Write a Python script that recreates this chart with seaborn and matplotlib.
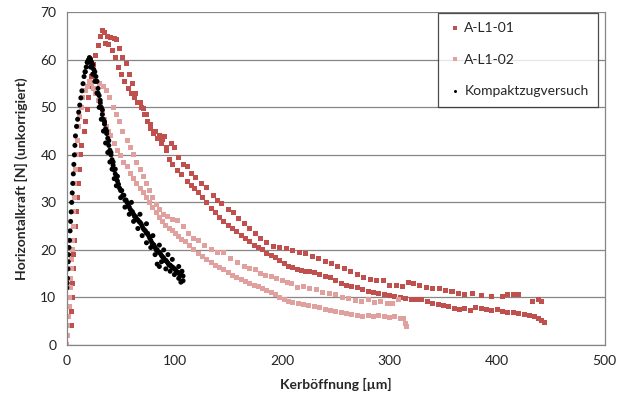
import pandas as pd
import seaborn as sns
import matplotlib.pyplot as plt

# A-L1-01: rise, upper (sparse) branch, lower (dense) branch
a01_x = [4, 4.5, 5, 5.5, 6, 6.5, 7, 8, 9, 10, 11, 12, 13, 14, 16, 17, 19, 20, 22, 23, 25, 27, 29, 31, 33,
         35, 38, 41, 44, 46, 49, 52, 55, 58, 61, 64, 68, 71, 74, 78, 82, 86, 89, 93, 97, 100, 104, 108,
         112, 116, 120, 125, 130, 136, 140, 144, 150, 155, 160, 165, 170, 175, 180, 186, 192, 198, 204,
         210, 216, 222, 228, 234, 240, 246, 252, 258, 264, 270, 276, 282, 288, 294, 300, 306, 312, 318,
         322, 328, 334, 340, 346, 352, 358, 364, 370, 377, 385, 395, 405, 410, 415, 420, 433, 438, 441,
         36, 39, 42, 45, 48, 51, 54, 57, 60, 63, 66, 69, 72, 75, 78, 81, 84, 88, 91, 93, 95, 98, 103,
         107, 112, 116, 119, 122, 126, 130, 134, 138, 142, 146, 150, 154, 158, 162, 166, 170, 174, 178,
         182, 186, 190, 194, 198, 202, 206, 210, 214, 218, 222, 226, 230, 235, 240, 245, 250, 255, 260,
         265, 270, 275, 280, 285, 290, 295, 300, 305, 310, 315, 320, 325, 330, 335, 340, 345, 350, 355,
         360, 365, 370, 375, 380, 385, 390, 395, 400, 405, 410, 415, 420, 425, 430, 435, 438, 441, 444]
a01_y = [4, 7, 10, 13, 16, 19, 22, 25, 28, 31, 34, 37, 40, 42, 45, 47, 49.5, 52, 54.5, 56.5, 59, 61, 63, 65, 66.2,
         65.8, 65, 64.8, 64.5, 64.3, 62.5, 60.5, 59.2, 57, 55, 53, 51, 49.8, 48.5, 46.5, 45, 44, 43.2, 41.5,
         42.5, 41.5, 39.5, 38, 37.5, 36, 35.2, 34, 33.2, 31.5, 30.5, 29.8, 28.5, 27.8, 26.6, 25.5, 24.5,
         23.5, 22.5, 21.5, 20.8, 20.5, 20.2, 19.8, 19.5, 19.2, 18.6, 18.2, 17.5, 17.2, 16.5, 16, 15.5,
         14.8, 14.2, 13.8, 13.5, 13.6, 12.6, 12.4, 12.2, 13.2, 13, 12.6, 12, 11.8, 11.8, 11.5, 11.2, 10.8,
         10.5, 10.9, 10.3, 10.2, 10.1, 10.6, 10.5, 10.7, 9.2, 9.5, 9.2,
         63.5, 63.2, 62, 60.5, 58.5, 57, 55.5, 54, 53, 52, 51, 50, 48.5, 47, 45.5, 44.5, 43.5, 42.5, 43.8,
         41, 39, 38, 36.8, 35.8, 34.5, 33.5, 33, 32, 31, 30, 28.8, 27.8, 26.8, 26, 25.2, 24.5, 23.8, 23,
         22.3, 21.7, 21, 20.5, 20, 19.3, 18.8, 18.3, 17.8, 17.2, 16.5, 16.2, 15.8, 15.6, 15.5, 15.4, 15.2,
         14.8, 14.4, 14.2, 13.5, 13, 12.6, 12.3, 12, 11.6, 11.3, 11, 10.8, 10.5, 10.4, 10.2, 10, 9.8, 9.6,
         9.5, 9.5, 9.2, 8.8, 8.5, 8.2, 8, 7.6, 7.4, 7.6, 7.3, 7.8, 7.6, 7.4, 7.2, 7.4, 7, 6.9, 6.8, 6.6,
         6.4, 6.2, 6, 5.6, 5.2, 4.8]

# A-L1-02: rise, lower branch, upper branch
a02_x = [0, 0.5, 1, 1.5, 2, 2.5, 3, 3.5, 4, 4.5, 5, 5.5, 6, 6.5, 7, 7.5, 8, 9, 10, 11, 12, 14, 15, 17, 19, 21, 23,
         25, 27, 29, 31, 33, 35, 37, 39, 41, 44, 47, 50, 53, 56, 59, 62, 65, 68, 71, 74, 77, 80, 83, 86,
         89, 92, 95, 98, 101, 104, 107, 110, 114, 118, 122, 126, 130, 134, 138, 142, 146, 150, 154, 158,
         162, 166, 170, 174, 178, 182, 186, 190, 194, 198, 202, 206, 210, 215, 220, 225, 230, 235, 240,
         245, 250, 255, 260, 265, 270, 275, 280, 285, 290, 295, 300, 305, 310, 313, 315, 316,
         30, 34, 37, 40, 43, 46, 49, 52, 56, 59, 62, 65, 68, 71, 74, 77, 80, 83, 86, 90, 94, 98, 103, 108,
         113, 118, 122, 128, 134, 140, 146, 152, 159, 165, 170, 175, 180, 185, 190, 195, 200, 205, 209,
         214, 220, 226, 232, 238, 244, 250, 256, 262, 268, 274, 280, 286, 292, 298, 303, 308]
a02_y = [0, 2, 4, 6, 8, 10, 12, 14, 16, 18, 20, 22, 25, 28, 31, 34, 37, 40, 43, 46, 48, 50, 52, 53.5, 54.5, 55.5, 55,
         54, 53, 51.5, 50.5, 49, 47.5, 46, 45, 44, 42.5, 41, 39.8, 38.5, 37.5, 36, 35, 34, 33, 32, 31, 30,
         29, 27.8, 26.8, 26, 25.2, 24.6, 24, 23.4, 22.8, 22.2, 21.8, 21, 20, 19.3, 18.6, 18, 17.4, 16.8,
         16.2, 15.8, 15.2, 14.7, 14.2, 13.8, 13.4, 12.9, 12.5, 12.2, 11.8, 11.4, 11, 10.5, 10, 9.5, 9.2, 9,
         8.8, 8.6, 8.3, 8, 7.8, 7.5, 7.2, 7, 6.8, 6.5, 6.4, 6.2, 6, 6.1, 6, 6.2, 5.9, 5.8, 5.9, 5.6, 5.5,
         4.5, 3.8,
         55, 54.5, 53.5, 52, 50, 48.5, 47, 45, 43, 41.5, 40, 38.5, 37, 35.5, 34, 32.5, 31, 29.5, 28.5, 27.5,
         27, 26.5, 26.2, 25, 23.5, 22.5, 22, 21, 20, 19.4, 19.5, 18.2, 17.3, 16.5, 16, 15.8, 15, 14.6, 14.3,
         14, 13.5, 13.2, 13, 12, 12.2, 11.8, 11.6, 11, 10.8, 10.5, 10, 9.8, 9.4, 9.2, 9.5, 9, 9.2, 8.8,
         8.8, 9.5]

# Kompaktzugversuch
kzv_x = [0, 0.3, 0.6, 1, 1.3, 1.6, 2, 2.5, 3, 3.5, 4, 4.5, 5, 5.5, 6, 6.5, 7, 7.5, 8, 9, 10, 11, 12, 13, 14,
         15, 16, 17, 18, 19, 20, 21, 22, 23, 24, 25, 26, 27, 28, 29, 30, 31, 32, 33, 34, 35, 36, 37, 38,
         39, 40, 41, 42, 43, 44, 45, 46, 47, 48, 49, 50, 52, 54, 56, 58, 60, 62, 64, 66, 68, 70, 72, 74,
         76, 78, 80, 82, 84, 86, 88, 90, 92, 94, 96, 98, 100, 102, 104, 106, 108, 108,
         22, 24, 26, 28, 30, 32, 34, 36, 38, 40, 42, 44, 46, 50, 54, 58, 62, 66, 70, 74, 78, 82, 84, 86,
         88, 92, 96, 100, 104, 106, 104, 98, 94, 90, 86, 80, 74, 68, 60,
         17, 19, 21, 23, 25, 27, 29, 31, 33, 35, 37, 39, 41, 43, 45, 47, 51, 53, 55, 57, 59, 61, 63, 65,
         67, 69, 71, 73, 75, 77, 79, 81, 83, 85, 87, 89, 91, 93, 95, 97, 99, 101, 103, 105, 107]
kzv_y = [12, 13, 14, 16, 17.5, 19, 20.5, 22, 24, 26, 28, 30, 32, 34, 36, 38, 40, 42, 44, 46, 47.5, 49, 50.5,
         52, 53.5, 55, 56.5, 57.5, 58.5, 59.5, 60, 60.5, 60.2, 59.5, 59, 58, 57.5, 56.5, 55.5, 54, 52.5,
         51, 50, 48.5, 47.5, 46.5, 45.5, 44.5, 43.5, 42, 41, 40, 39, 37.8, 36.8, 36, 35.2, 34.5, 33.8, 33,
         32.5, 31.5, 30.5, 30, 29, 28.2, 27.5, 27, 26.3, 25.8, 25, 24.2, 23.5, 23, 22, 21.2, 20.5, 20,
         19.5, 18.8, 18.3, 17.8, 17.2, 16.8, 16.4, 16, 15.5, 15.2, 14.8, 14.5, 13.5,
         58.5, 57, 55.5, 53, 50, 47.5, 45, 42.5, 40.5, 38.5, 37, 35, 33.5, 31, 29, 27.5, 26, 24.5, 23,
         21.5, 20.5, 19, 17, 16.5, 17.5, 16, 15.5, 14.8, 14, 13.2, 16.5, 18, 19, 20, 21, 23, 25.5, 27.5, 30,
         57.5, 59.5, 59.5, 58.5, 57, 55.5, 53, 51.5, 49.5, 47, 45, 43, 40.5, 38.5, 37, 35.5, 32.5, 31.5,
         30.5, 29.5, 28.5, 28, 27, 26.5, 26, 25.5, 24.5, 24, 23.5, 22.5, 21.5, 21, 20, 19.5, 19.2, 18.5,
         17.8, 17.5, 16.8, 16.5, 16.2, 15.8, 15.2, 14.8, 15.5]

names = ['A-L1-01', 'A-L1-02', 'Kompaktzugversuch']
colors = ['#C0504D', '#E0A09E', '#000000']

data = pd.concat([
    pd.DataFrame({'x': a01_x, 'y': a01_y, 'Serie': names[0]}),
    pd.DataFrame({'x': a02_x, 'y': a02_y, 'Serie': names[1]}),
    pd.DataFrame({'x': kzv_x, 'y': kzv_y, 'Serie': names[2]}),
])

sns.set_style('white')
plt.rcParams['font.family'] = ['Lato', 'DejaVu Sans']

fig = plt.figure(figsize=(6.19, 4.01), dpi=100)
ax = fig.add_axes([0.108, 0.140, 0.869, 0.829])

sns.scatterplot(data=data, x='x', y='y', hue='Serie', style='Serie',
                palette=dict(zip(names, colors)),
                markers={names[0]: 's', names[1]: 's', names[2]: 'o'},
                s=13, linewidth=0, ax=ax)

ax.set_xlim(0, 500)
ax.set_ylim(0, 70)
ax.set_xticks(range(0, 501, 100))
ax.set_yticks(range(0, 71, 10))
ax.yaxis.grid(True, color='#868686', linewidth=0.9)
ax.set_axisbelow(True)
for sp in ax.spines.values():
    sp.set_color('#868686')
    sp.set_linewidth(0.9)
ax.spines['top'].set_visible(False)
ax.tick_params(axis='both', direction='out', length=4, color='#868686',
               labelsize=10, labelcolor='#222222')

ax.set_xlabel('Kerböffnung [µm]', fontsize=10, fontweight='bold', labelpad=8)
ax.set_ylabel('Horizontalkraft [N] (unkorrigiert)', fontsize=10, fontweight='bold', labelpad=9)

leg = ax.legend(loc='upper right', bbox_to_anchor=(0.988, 0.999), borderaxespad=0,
                frameon=True, fancybox=False, fontsize=10, labelspacing=1.4,
                handletextpad=0.2, handlelength=1.0, markerscale=0.6, borderpad=0.7)
leg.get_frame().set_edgecolor('#222222')
leg.get_frame().set_linewidth(0.9)

fig.savefig('out.png', dpi=100)
